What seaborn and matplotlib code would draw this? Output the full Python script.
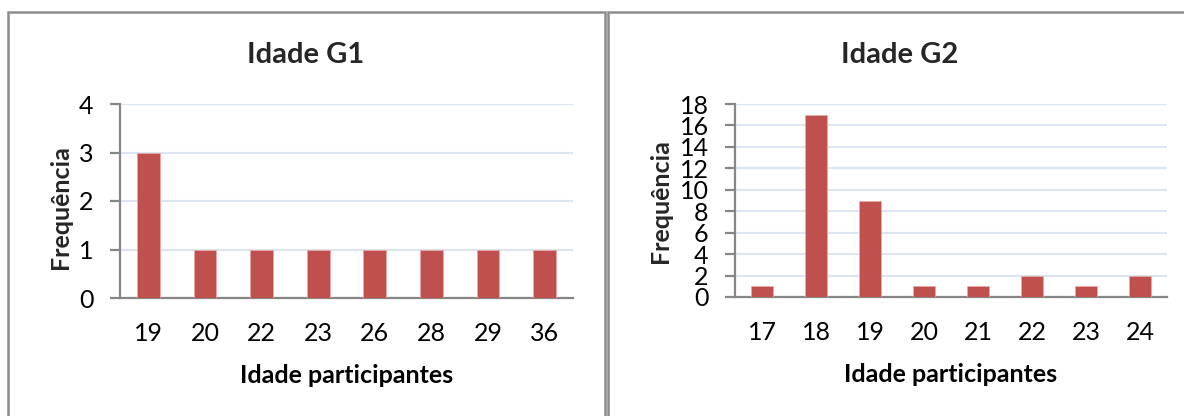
import matplotlib
matplotlib.use("Agg")
import matplotlib.pyplot as plt
from matplotlib.patches import Rectangle
import seaborn as sns
import pandas as pd

g1_ages = ["19", "20", "22", "23", "26", "28", "29", "36"]
g1_freq = [3, 1, 1, 1, 1, 1, 1, 1]
g2_ages = ["17", "18", "19", "20", "21", "22", "23", "24"]
g2_freq = [1, 17, 9, 1, 1, 2, 1, 2]
g1_yticks = [0, 1, 2, 3, 4]
g2_yticks = list(range(0, 20, 2))

sns.set_theme(style="white")
plt.rcParams["font.family"] = ["Lato", "DejaVu Sans"]

BAR = "#C0504D"
GRID = "#DCE6F2"
AXC = "#868686"

W, H = 1184, 416
fig = plt.figure(figsize=(W / 100, H / 100), dpi=100)

def fx(px):
    return px / W

def fy(py):
    return 1 - py / H

# panel borders
for x0, x1 in [(8, 605), (608, 1200)]:
    fig.add_artist(Rectangle((fx(x0), fy(440)), fx(x1 - x0), (440 - 12) / H,
                             transform=fig.transFigure, fill=False,
                             edgecolor="#8C8C8C", lw=1.8, zorder=0))

def draw(ax_px, ages, freq, yticks, title, title_x, ylab_x, ylab_y):
    x0, x1, ytop, ybot = ax_px
    ax = fig.add_axes([fx(x0), fy(ybot), fx(x1 - x0), (ybot - ytop) / H])
    df = pd.DataFrame({"age": ages, "freq": freq})
    sns.barplot(data=df, x="age", y="freq", color=BAR, saturation=1,
                width=0.4, ax=ax, zorder=3, edgecolor="#E8A8A6", linewidth=0.6)
    ax.set_xlim(-0.5, len(ages) - 0.5)
    ax.set_ylim(yticks[0], yticks[-1])
    ax.set_yticks(yticks)
    ax.yaxis.grid(True, color=GRID, lw=1.5, zorder=0)
    ax.set_axisbelow(True)
    for s in ["top", "right"]:
        ax.spines[s].set_visible(False)
    for s in ["left", "bottom"]:
        ax.spines[s].set_color(AXC)
        ax.spines[s].set_linewidth(1.6)
    ax.tick_params(axis="y", length=7, width=1.6, color=AXC, direction="out",
                   labelsize=18, pad=12, left=True)
    ax.tick_params(axis="x", length=0, labelsize=18, pad=17)
    for t in ax.get_xticklabels() + ax.get_yticklabels():
        t.set_color("#000000")
    ax.set_xlabel("Idade participantes", fontsize=18, fontweight="bold",
                  labelpad=14, color="#000000")
    ax.set_ylabel("")
    fig.text(fx(ylab_x), fy(ylab_y), "Frequência", rotation=90, ha="center",
             va="center", fontsize=18, fontweight="bold")
    fig.text(fx(title_x), fy(55), title, ha="center", va="center",
             fontsize=21, fontweight="bold")
    return ax

draw((120, 573, 104, 298), g1_ages, g1_freq, g1_yticks, "Idade G1", 306, 60, 207)
draw((735, 1167, 104, 297), g2_ages, g2_freq, g2_yticks, "Idade G2", 900, 660, 201)

fig.savefig("out.png", dpi=100, facecolor="white")
